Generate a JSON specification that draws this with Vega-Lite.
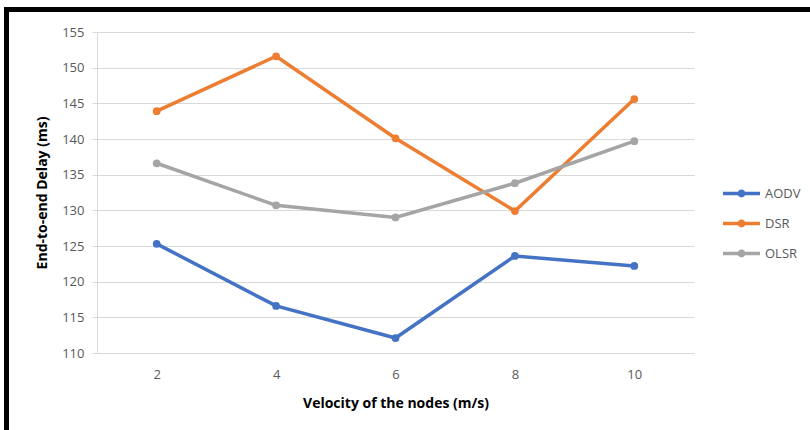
{
  "$schema": "https://vega.github.io/schema/vega-lite/v6.json",
  "autosize": {"type": "none"},
  "padding": {"left": 97, "top": 32, "right": 116, "bottom": 77},
  "width": 597,
  "height": 321,
  "background": "white",
  "config": {
    "font": "Open Sans",
    "view": {"stroke": null},
    "axis": {"labelFont": "Open Sans", "titleFont": "Open Sans"}
  },
  "data": {
    "values": [
      {"velocity": 2, "protocol": "AODV", "delay": 125.3},
      {"velocity": 4, "protocol": "AODV", "delay": 116.6},
      {"velocity": 6, "protocol": "AODV", "delay": 112.1},
      {"velocity": 8, "protocol": "AODV", "delay": 123.6},
      {"velocity": 10, "protocol": "AODV", "delay": 122.2},
      {"velocity": 2, "protocol": "DSR", "delay": 143.9},
      {"velocity": 4, "protocol": "DSR", "delay": 151.6},
      {"velocity": 6, "protocol": "DSR", "delay": 140.1},
      {"velocity": 8, "protocol": "DSR", "delay": 129.9},
      {"velocity": 10, "protocol": "DSR", "delay": 145.6},
      {"velocity": 2, "protocol": "OLSR", "delay": 136.6},
      {"velocity": 4, "protocol": "OLSR", "delay": 130.7},
      {"velocity": 6, "protocol": "OLSR", "delay": 129.0},
      {"velocity": 8, "protocol": "OLSR", "delay": 133.8},
      {"velocity": 10, "protocol": "OLSR", "delay": 139.7}
    ]
  },
  "layer": [
    {
      "mark": {"type": "line", "strokeWidth": 3.5, "point": {"size": 60, "filled": true, "opacity": 1}},
      "encoding": {
        "x": {
          "field": "velocity",
          "type": "ordinal",
          "sort": [2, 4, 6, 8, 10],
          "scale": {"type": "point", "padding": 0.5},
          "axis": {
            "title": "Velocity of the nodes (m/s)",
            "labelAngle": 0,
            "labelFontSize": 13,
            "labelColor": "#595959",
            "labelPadding": 15,
            "ticks": false,
            "domainColor": "#d9d9d9",
            "domainWidth": 1,
            "titleFontSize": 14,
            "titleFontWeight": "bold",
            "titleColor": "#000000",
            "titlePadding": 15,
            "grid": false
          }
        },
        "y": {
          "field": "delay",
          "type": "quantitative",
          "scale": {"domain": [110, 155], "zero": false, "nice": false},
          "axis": {
            "title": "End-to-end Delay (ms)",
            "values": [110, 115, 120, 125, 130, 135, 140, 145, 150, 155],
            "labelFontSize": 13,
            "labelColor": "#595959",
            "tickSize": 5,
            "tickColor": "#d9d9d9",
            "labelPadding": 8,
            "domainColor": "#d9d9d9",
            "gridColor": "#d9d9d9",
            "titleFontSize": 14,
            "titleFontWeight": "bold",
            "titleColor": "#000000",
            "titleX": -48
          }
        },
        "color": {
          "field": "protocol",
          "type": "nominal",
          "scale": {"domain": ["AODV", "DSR", "OLSR"], "range": ["#4472C4", "#ED7D31", "#A5A5A5"]},
          "legend": {
            "title": null,
            "orient": "none",
            "legendX": 624,
            "legendY": 141,
            "symbolType": "M-1,0H1M-0.12,0A0.12,0.12 0 1,0 0.12,0A0.12,0.12 0 1,0 -0.12,0",
            "symbolSize": 1369,
            "symbolStrokeWidth": 3.5,
            "rowPadding": -6,
            "labelFontSize": 13,
            "labelColor": "#595959",
            "labelOffset": 3
          }
        }
      }
    },
    {
      "data": {"values": [{}]},
      "mark": {"type": "rect", "fill": null, "stroke": "#000000", "strokeWidth": 5, "clip": false},
      "encoding": {
        "x": {"value": -90.5},
        "y": {"value": -22.5},
        "x2": {"value": 740},
        "y2": {"value": 420}
      }
    }
  ]
}
